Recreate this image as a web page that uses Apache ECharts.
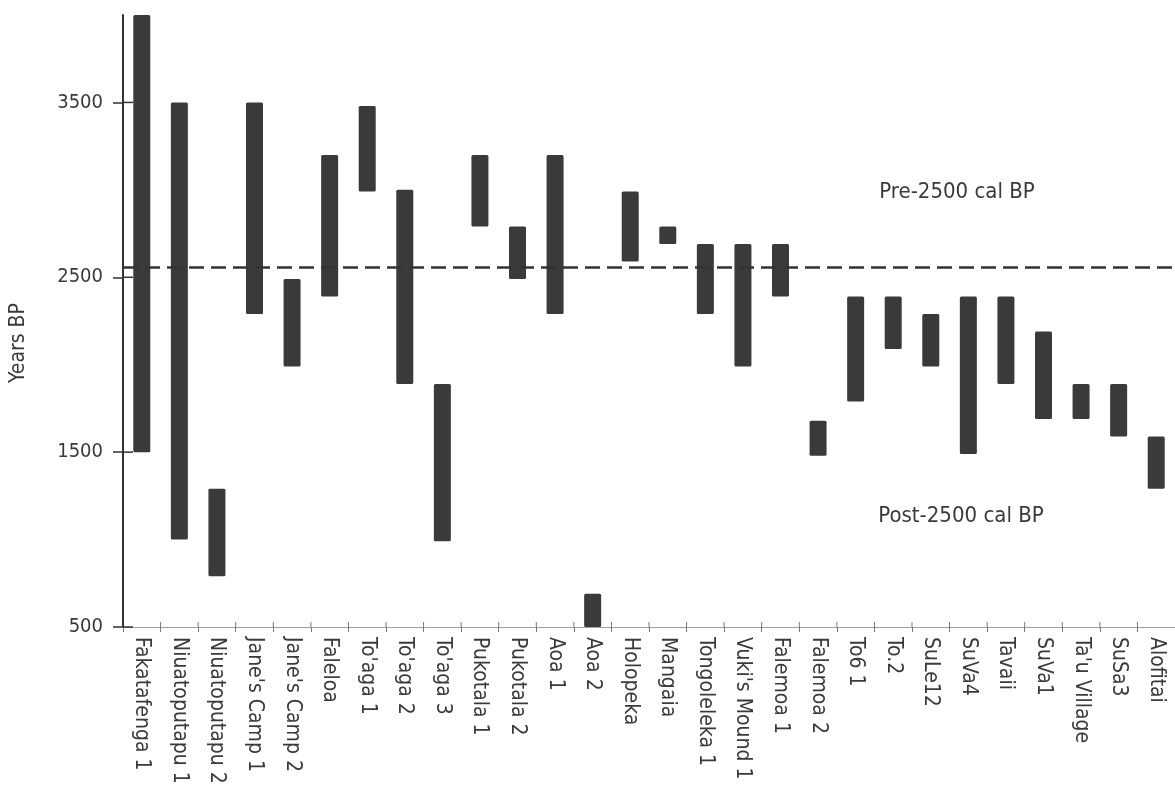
<!DOCTYPE html>
<html>
<head>
<meta charset="utf-8">
<title>Radiocarbon age ranges by site</title>
<script src="https://cdn.jsdelivr.net/npm/echarts@6/dist/echarts.min.js"></script>
<style>
  html, body { margin: 0; padding: 0; background: #ffffff; }
  #chart { width: 1175px; height: 787px; }
</style>
</head>
<body>
<div id="chart"></div>
<script>
// Sites, left to right
const sites = [
  'Fakatafenga 1', 'Niuatoputapu 1', 'Niuatoputapu 2', "Jane's Camp 1", "Jane's Camp 2",
  'Faleloa', "To'aga 1", "To'aga 2", "To'aga 3", 'Pukotala 1', 'Pukotala 2', 'Aoa 1',
  'Aoa 2', 'Holopeka', 'Mangaia', 'Tongoleleka 1', "Vuki's Mound 1", 'Falemoa 1',
  'Falemoa 2', 'To6 1', 'To.2', 'SuLe12', 'SuVa4', 'Tavaii', 'SuVa1', "Ta'u Village",
  'SuSa3', 'Alofitai'
];

// Oldest end of each age range (years BP)
const oldestBP = [
  4000, 3500, 1290, 3500, 2490, 3200, 3480, 3000, 1890, 3200, 2790, 3200,
  690, 2990, 2790, 2690, 2690, 2690, 1680, 2390, 2390, 2290, 2390, 2390,
  2190, 1890, 1890, 1590
];

// Youngest end of each age range (years BP)
const youngestBP = [
  1500, 1000, 790, 2290, 1990, 2390, 2990, 1890, 990, 2790, 2490, 2290,
  500, 2590, 2690, 2290, 1990, 2390, 1480, 1790, 2090, 1990, 1490, 1890,
  1690, 1690, 1590, 1290
];

// Labelled ticks on the age axis
const yTickValues = [500, 1500, 2500, 3500];

// Boundary between the two periods
const boundaryBP = 2560;

const AXIS_MIN = 500;
const AXIS_MAX = 4000;

const rangeSpan = oldestBP.map((v, i) => v - youngestBP[i]);

const FONT = '"DejaVu Sans Condensed", "DejaVu Sans", sans-serif';
const INK = '#3a3a3a';
const TEXT = '#3a3a3a';

// Inner halves of the cross-shaped ticks, placed through the axes' scales:
// age ticks sit on the left edge of the first category band,
// category ticks sit on the band edges along the bottom.
function renderInnerTicks(params, api) {
  const kind = api.value(2);
  const band = api.size([1, 0])[0];
  const p = api.coord([api.value(0), api.value(1)]);
  const style = kind === 0
    ? { stroke: '#333', lineWidth: 1.5 }
    : { stroke: '#777', lineWidth: 1 };
  if (kind === 0) {
    const x0 = p[0] - band / 2;
    return { type: 'line', shape: { x1: x0, y1: p[1], x2: x0 + 10, y2: p[1] }, style: style, silent: true };
  }
  const x = p[0] + band / 2;
  return { type: 'line', shape: { x1: x, y1: p[1], x2: x, y2: p[1] - 5 }, style: style, silent: true };
}

const innerTickData = yTickValues.map((v) => [0, v, 0])
  .concat(sites.slice(0, sites.length - 1).map((s, i) => [i, AXIS_MIN, 1]));

const chart = echarts.init(document.getElementById('chart'), null, { renderer: 'canvas' });

chart.setOption({
  backgroundColor: '#ffffff',
  animation: false,
  grid: { left: 123, right: 0, top: 15, bottom: 160, containLabel: false },
  xAxis: {
    type: 'category',
    data: sites,
    boundaryGap: true,
    axisLine: { show: true, lineStyle: { color: '#a0a0a0', width: 1 } },
    axisTick: { show: true, length: 5, lineStyle: { color: '#777', width: 1 } },
    axisLabel: {
      interval: 0,
      rotate: -90,
      margin: 10,
      color: TEXT,
      fontFamily: FONT,
      fontSize: 21
    },
    splitLine: { show: false }
  },
  yAxis: {
    type: 'value',
    min: AXIS_MIN,
    max: AXIS_MAX,
    axisLine: { show: true, lineStyle: { color: '#333', width: 2 } },
    axisTick: { show: true, length: 10, customValues: yTickValues, lineStyle: { color: '#333', width: 1.5 } },
    axisLabel: {
      customValues: yTickValues,
      formatter: (v) => String(v),
      margin: 20,
      color: TEXT,
      fontFamily: FONT,
      fontSize: 20
    },
    splitLine: { show: false }
  },
  graphic: [
    {
      type: 'text',
      x: 19,
      y: 343,
      rotation: Math.PI / 2,
      style: {
        text: 'Years BP',
        fill: TEXT,
        font: '21px ' + FONT,
        align: 'center',
        verticalAlign: 'middle'
      }
    },
    {
      type: 'text',
      x: 957,
      y: 192,
      style: {
        text: 'Pre-2500 cal BP',
        fill: TEXT,
        font: '22px ' + FONT,
        align: 'center',
        verticalAlign: 'middle'
      }
    },
    {
      type: 'text',
      x: 961,
      y: 516,
      style: {
        text: 'Post-2500 cal BP',
        fill: TEXT,
        font: '22px ' + FONT,
        align: 'center',
        verticalAlign: 'middle'
      }
    }
  ],
  series: [
    {
      name: 'base',
      type: 'bar',
      stack: 'range',
      barWidth: 17,
      itemStyle: { color: 'rgba(0,0,0,0)' },
      emphasis: { disabled: true },
      silent: true,
      data: youngestBP
    },
    {
      name: 'Age range',
      type: 'bar',
      stack: 'range',
      barWidth: 17,
      itemStyle: { color: INK, borderRadius: 1.5 },
      emphasis: { disabled: true },
      data: rangeSpan,
      markLine: {
        silent: true,
        symbol: ['none', 'none'],
        label: { show: false },
        lineStyle: { color: '#333', width: 2.5, type: [15, 7] },
        data: [{ yAxis: boundaryBP }]
      }
    },
    {
      name: 'inner ticks',
      type: 'custom',
      silent: true,
      clip: false,
      renderItem: renderInnerTicks,
      encode: { x: 0, y: 1 },
      data: innerTickData,
      z: 3
    }
  ]
});
</script>
</body>
</html>
